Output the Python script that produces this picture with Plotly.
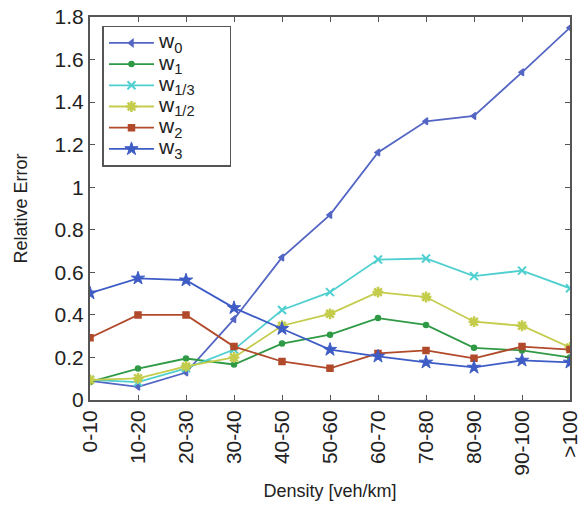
import plotly.graph_objects as go

categories = ["0-10", "10-20", "20-30", "30-40", "40-50", "50-60",
              "60-70", "70-80", "80-90", "90-100", ">100"]
w0 = [0.09, 0.062, 0.129, 0.38, 0.67, 0.87, 1.163, 1.31, 1.335, 1.54, 1.75]
w1 = [0.085, 0.148, 0.195, 0.167, 0.265, 0.307, 0.385, 0.353, 0.245, 0.233, 0.2]
w13 = [0.095, 0.084, 0.149, 0.237, 0.423, 0.507, 0.66, 0.665, 0.582, 0.608, 0.525]
w12 = [0.095, 0.102, 0.158, 0.2, 0.349, 0.405, 0.507, 0.484, 0.368, 0.349, 0.247]
w2 = [0.293, 0.4, 0.4, 0.251, 0.181, 0.149, 0.219, 0.233, 0.196, 0.251, 0.237]
w3 = [0.502, 0.572, 0.563, 0.433, 0.335, 0.237, 0.205, 0.177, 0.153, 0.186, 0.177]
y_ticks = [0, 0.2, 0.4, 0.6, 0.8, 1, 1.2, 1.4, 1.6, 1.8]
y_tick_labels = ["0", "0.2", "0.4", "0.6", "0.8", "1", "1.2", "1.4", "1.6", "1.8"]
legend_names = ["w<sub>0</sub>", "w<sub>1</sub>", "w<sub>1/3</sub>",
                "w<sub>1/2</sub>", "w<sub>2</sub>", "w<sub>3</sub>"]

styles = [
    ("#5466c4", "triangle-left", 6, 1.5),
    ("#2f9a45", "circle", 5, 1.5),
    ("#4fcfcf", "x-thin-open", 8, 2),
    ("#c4cc4c", "asterisk-open", 9, 2.5),
    ("#b14a2b", "square", 6, 1.5),
    ("#3e5cc6", "star", 10, 1),
]

fig = go.Figure()
for name, vals, (color, sym, size, lw) in zip(legend_names, [w0, w1, w13, w12, w2, w3], styles):
    fig.add_trace(go.Scatter(
        x=categories, y=vals, mode="lines+markers",
        name='<span style="font-size:21px">' + name + "&nbsp;&nbsp;&nbsp;&nbsp;&nbsp;</span>",
        line=dict(color=color, width=1.8),
        marker=dict(symbol=sym, size=size, color=color,
                    line=dict(color=color, width=lw)),
    ))

fig.update_layout(
    width=586, height=508,
    margin=dict(l=90, r=5, t=13, b=108),
    plot_bgcolor="white", paper_bgcolor="white",
    font=dict(family="Liberation Sans, Arial, sans-serif", size=21, color="#222"),
    showlegend=True,
    legend=dict(x=0.026, y=0.977, xanchor="left", yanchor="top",
                bgcolor="white", bordercolor="#555", borderwidth=1.5,
                font=dict(size=14), tracegroupgap=0, itemwidth=45,
                traceorder="normal"),
)
fig.update_xaxes(
    type="category", range=[0, 10], tickangle=-90,
    showline=True, linecolor="#555", linewidth=2, mirror="allticks",
    ticks="inside", ticklen=5, tickcolor="#555",
    showgrid=False, zeroline=False,
    title=dict(text="Density [veh/km]", font=dict(size=18), standoff=10),
)
fig.update_yaxes(
    range=[0, 1.8], tickvals=y_ticks, ticktext=y_tick_labels,
    showline=True, linecolor="#555", linewidth=2, mirror="allticks",
    ticks="inside", ticklen=5, tickcolor="#555",
    showgrid=False, zeroline=False,
    title=dict(text="Relative Error", font=dict(size=18), standoff=22),
)
fig.write_html("out.html")
